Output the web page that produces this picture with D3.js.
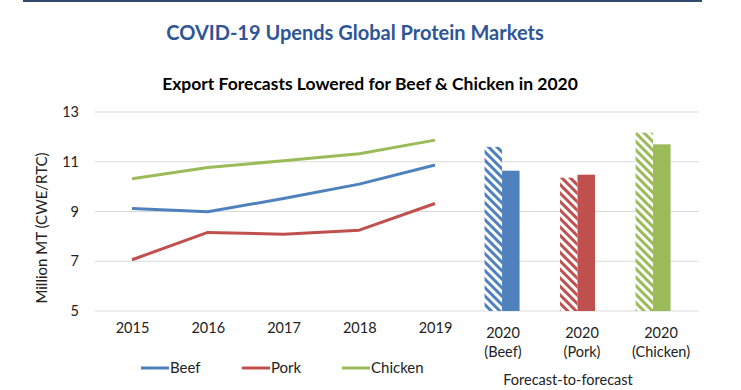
<!DOCTYPE html>
<html><head><meta charset="utf-8">
<script src="https://cdn.jsdelivr.net/npm/d3@7"></script>
<style>
html,body{margin:0;padding:0;background:#fff;}
text{font-family:Lato,"Open Sans",sans-serif;}
</style></head>
<body><div id="chart"></div>
<script>
const years = ["2015","2016","2017","2018","2019"];
const beef = [9.12, 8.99, 9.52, 10.10, 10.87];
const pork = [7.06, 8.16, 8.09, 8.25, 9.32];
const chicken = [10.32, 10.77, 11.04, 11.32, 11.87];
const forecastCats = ["Beef","Pork","Chicken"];
const forecastLabels = ["(Beef)","(Pork)","(Chicken)"];
const previousForecast = [11.60, 10.36, 12.17];
const currentForecast = [10.64, 10.48, 11.70];
const yTicks = [5,7,9,11,13];
const colors = {Beef:"#4F81BD", Pork:"#C0504D", Chicken:"#9BBB59"};

const W = 741, H = 390;
const svg = d3.select("#chart").append("svg").attr("width",W).attr("height",H);

const defs = svg.append("defs");
forecastCats.forEach(c=>{
  const p = defs.append("pattern").attr("id","hatch"+c).attr("patternUnits","userSpaceOnUse")
    .attr("width",6).attr("height",6).attr("patternTransform","rotate(-45)");
  p.append("rect").attr("width",6).attr("height",6).attr("fill","#fff");
  p.append("rect").attr("x",0).attr("y",0).attr("width",3).attr("height",6).attr("fill",colors[c]);
});

// top rule
svg.append("rect").attr("x",23).attr("y",0).attr("width",679).attr("height",2).attr("fill","#2F4A6D");

svg.append("text").attr("x",355).attr("y",40).attr("text-anchor","middle")
  .attr("font-size",20).attr("font-weight","bold").attr("fill","#2E5597")
  .text("COVID-19 Upends Global Protein Markets");
svg.append("text").attr("x",370).attr("y",90).attr("text-anchor","middle")
  .attr("font-size",17.5).attr("font-weight","bold").attr("fill","#000")
  .text("Export Forecasts Lowered for Beef & Chicken in 2020");

const y = d3.scaleLinear().domain([5,13]).range([311,112]);
const x = d3.scalePoint().domain(years).range([132,435]);
const xb = d3.scaleBand().domain(forecastCats).range([464.3,690.8]);
const xin = d3.scaleBand().domain(["prev","curr"]).range([-17.5,17.5]);
const xl = d3.scalePoint().domain(forecastLabels).range([503,661]);

// grid
const gridX0 = 95, gridX1 = 699;
svg.append("g").selectAll("line").data(yTicks).join("line")
  .attr("x1",gridX0).attr("x2",gridX1).attr("y1",d=>y(d)).attr("y2",d=>y(d))
  .attr("stroke","#D9D9D9").attr("stroke-width",1);

// y axis labels
const yAxis = svg.append("g").attr("transform","translate(85,0)")
  .call(d3.axisLeft(y).tickValues(yTicks).tickSize(0).tickPadding(6));
yAxis.select(".domain").remove();
yAxis.selectAll("text").attr("font-size",14.5).attr("fill","#222").attr("font-family","Lato,'Open Sans',sans-serif");

svg.append("text").attr("transform","translate(47,228) rotate(-90)").attr("text-anchor","middle")
  .attr("font-size",15).attr("fill","#222").text("Million MT (CWE/RTC)");

// x axis labels
const xAxis = svg.append("g").attr("transform","translate(0,318)")
  .call(d3.axisBottom(x).tickSize(0).tickPadding(0));
xAxis.select(".domain").remove();
xAxis.selectAll("text").attr("font-size",14.5).attr("fill","#222").attr("dy","1em").attr("font-family","Lato,'Open Sans',sans-serif");

const fl = svg.append("g");
forecastLabels.forEach((l)=>{
  fl.append("text").attr("x",xl(l)).attr("y",338).attr("text-anchor","middle")
    .attr("font-size",14.5).attr("fill","#222").text("2020");
  fl.append("text").attr("x",xl(l)).attr("y",357).attr("text-anchor","middle")
    .attr("font-size",14.5).attr("fill","#222").text(l);
});
svg.append("text").attr("x",568).attr("y",385).attr("text-anchor","middle")
  .attr("font-size",14.5).attr("fill","#222").text("Forecast-to-forecast");

// lines
const series = [["Beef",beef],["Pork",pork],["Chicken",chicken]];
const line = d3.line().x((d,i)=>x(years[i])).y(d=>y(d));
svg.append("g").selectAll("path").data(series).join("path")
  .attr("d",d=>line(d[1])).attr("fill","none").attr("stroke",d=>colors[d[0]])
  .attr("stroke-width",3).attr("stroke-linejoin","round");

// bars
const bars = svg.append("g");
forecastCats.forEach((c,i)=>{
  bars.append("rect").attr("x",xb(c)+xb.bandwidth()/2+xin("prev")).attr("width",xin.bandwidth())
    .attr("y",y(previousForecast[i])).attr("height",y(5)-y(previousForecast[i]))
    .attr("fill","url(#hatch"+c+")");
  bars.append("rect").attr("x",xb(c)+xb.bandwidth()/2+xin("curr")).attr("width",xin.bandwidth())
    .attr("y",y(currentForecast[i])).attr("height",y(5)-y(currentForecast[i]))
    .attr("fill",colors[c]);
});

// legend
const legX = [141,242,342];
const leg = svg.append("g");
series.forEach((s,i)=>{
  leg.append("line").attr("x1",legX[i]).attr("x2",legX[i]+28).attr("y1",368).attr("y2",368)
    .attr("stroke",colors[s[0]]).attr("stroke-width",3);
  leg.append("text").attr("x",legX[i]+29).attr("y",373).attr("font-size",15).attr("fill","#222").text(s[0]);
});
</script></body></html>
